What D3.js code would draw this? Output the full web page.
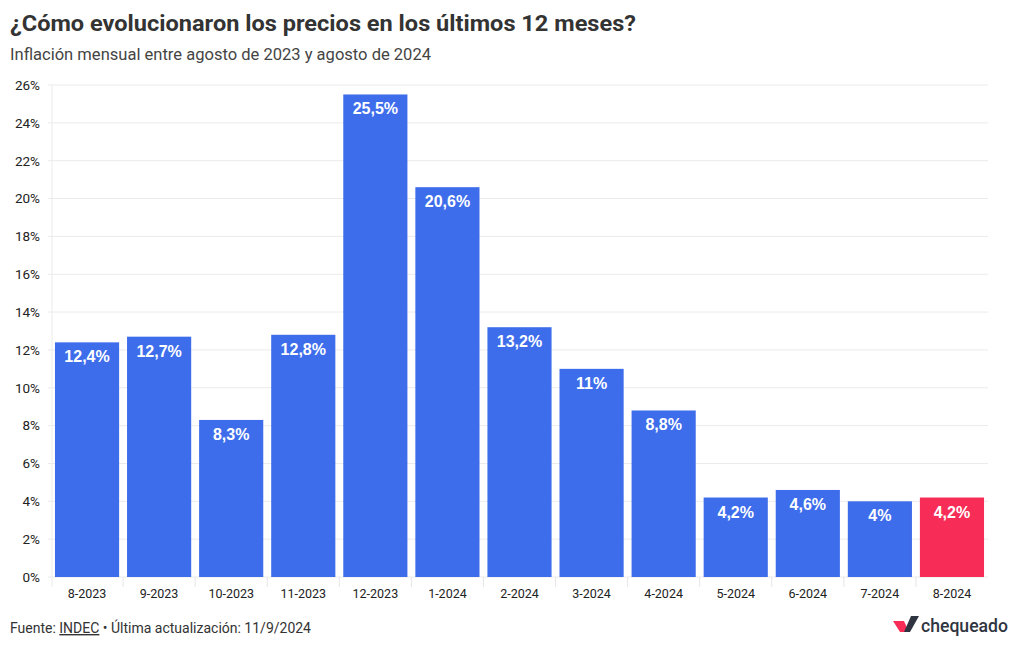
<!DOCTYPE html>
<html><head><meta charset="utf-8">
<script src="https://cdn.jsdelivr.net/npm/d3@7"></script>
<style>body{margin:0;background:#fff;}svg{display:block;}</style>
</head><body>
<svg id="c" width="1020" height="650"></svg>
<script>
const categories = ["8-2023","9-2023","10-2023","11-2023","12-2023","1-2024","2-2024","3-2024","4-2024","5-2024","6-2024","7-2024","8-2024"];
const values = [12.4,12.7,8.3,12.8,25.5,20.6,13.2,11,8.8,4.2,4.6,4,4.2];
const highlight = [false,false,false,false,false,false,false,false,false,false,false,false,true];
const yTicks = [0,2,4,6,8,10,12,14,16,18,20,22,24,26];

const svg = d3.select("#c");
const m = {l:51, r:32, t:85, b:73};
const W = 1020, H = 650;
const x = d3.scaleBand().domain(categories).range([m.l, W-m.r]).paddingInner(0.11).paddingOuter(0.055);
const y = d3.scaleLinear().domain([0,26]).range([H-m.b, m.t]);
const fmt = v => String(v).replace(".", ",") + "%";

svg.append("text").attr("x",10).attr("y",31).attr("font-family","Roboto, sans-serif").attr("font-weight",700).attr("font-size",22)
 .attr("textLength",626).attr("lengthAdjust","spacingAndGlyphs").attr("fill","#333").text("¿Cómo evolucionaron los precios en los últimos 12 meses?");
svg.append("text").attr("x",10).attr("y",60).attr("font-family","Roboto, sans-serif").attr("font-size",16)
 .attr("textLength",421).attr("lengthAdjust","spacingAndGlyphs").attr("fill","#444").text("Inflación mensual entre agosto de 2023 y agosto de 2024");

// grid
const g = svg.append("g");
g.selectAll("line.grid").data(yTicks).join("line").attr("class","grid")
 .attr("x1",m.l-3).attr("x2",W-m.r).attr("y1",d=>y(d)).attr("y2",d=>y(d))
 .attr("stroke","#ebebeb").attr("stroke-width",1);
g.append("line").attr("x1",m.l+1).attr("x2",m.l+1).attr("y1",m.t).attr("y2",H-m.b+10).attr("stroke","#ebebeb");

// y axis labels
const ya = svg.append("g").attr("transform",`translate(${m.l-11},0)`)
 .call(d3.axisLeft(y).tickValues(yTicks).tickFormat(d=>d+"%").tickSize(0).tickPadding(0));
ya.select(".domain").remove();
ya.selectAll("text").attr("font-family","Roboto, sans-serif").attr("font-size",13.5).attr("fill","#222");

// x axis
const xa = svg.append("g").attr("transform",`translate(0,${H-m.b})`)
 .call(d3.axisBottom(x).tickSize(0).tickPadding(12));
xa.select(".domain").remove();
xa.selectAll("text").attr("font-family","Roboto, sans-serif").attr("font-size",12.5).attr("fill","#222");
// separator ticks between categories
const gapHalf = x.step()*x.paddingInner()/2;
svg.append("g").selectAll("line").data(categories.slice(1)).join("line")
 .attr("x1",d=>x(d)-gapHalf).attr("x2",d=>x(d)-gapHalf)
 .attr("y1",H-m.b).attr("y2",H-m.b+10).attr("stroke","#e6e6e6");

// bars
svg.selectAll("rect.bar").data(values).join("rect").attr("class","bar")
 .attr("x",(d,i)=>x(categories[i])).attr("width",x.bandwidth())
 .attr("y",d=>y(d)).attr("height",d=>y(0)-y(d))
 .attr("fill",(d,i)=>highlight[i]?"#F72D57":"#3E6DEC");

svg.selectAll("text.lbl").data(values).join("text").attr("class","lbl")
 .attr("x",(d,i)=>x(categories[i])+x.bandwidth()/2).attr("y",d=>y(d)+20)
 .attr("text-anchor","middle").attr("font-family","'Liberation Sans', Arial, sans-serif").attr("font-weight",700)
 .attr("font-size",16).attr("fill","#fff").text(d=>fmt(d));

// footer
const f = svg.append("text").attr("x",10).attr("y",633).attr("font-family","Roboto, sans-serif").attr("font-size",14)
 .attr("textLength",301).attr("lengthAdjust","spacingAndGlyphs").attr("fill","#333");
f.append("tspan").text("Fuente: ");
f.append("tspan").attr("text-decoration","underline").text("INDEC");
f.append("tspan").text(" • Última actualización: 11/9/2024");

// logo
const lg = svg.append("g");
lg.append("path").attr("d","M893,621 L904,621 L909,632 L900,632 Z").attr("fill","#F72D57");
lg.append("path").attr("d","M904,632 L911,616 L919,616 L910,632 Z").attr("fill","#2f3441");
svg.append("text").attr("x",921).attr("y",632).attr("font-family","Roboto, sans-serif").attr("font-weight",500).attr("font-size",19)
 .attr("textLength",87).attr("lengthAdjust","spacingAndGlyphs").attr("fill","#2f3441").text("chequeado");
</script>
</body></html>
